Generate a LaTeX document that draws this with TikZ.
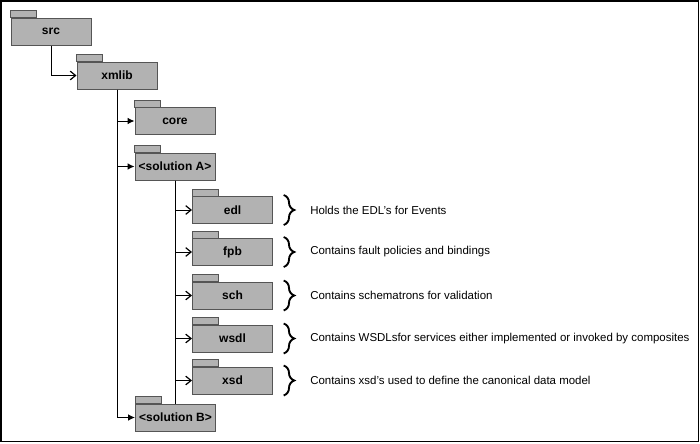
\documentclass[tikz,border=0pt]{standalone}
\usepackage{fontspec}
\setmainfont{Liberation Sans}
\usetikzlibrary{positioning,arrows.meta,decorations.pathreplacing}

\tikzset{
  pkg/.style={draw={rgb, 255:red, 85; green, 85; blue, 85 }, fill={rgb, 255:red, 178; green, 178; blue, 178 }, line width=0.75pt, minimum width=60pt, minimum height=20.25pt, inner sep=0pt, font=\bfseries\fontsize{9}{10}\selectfont},
  pkgtab/.style={draw={rgb, 255:red, 85; green, 85; blue, 85 }, fill={rgb, 255:red, 178; green, 178; blue, 178 }, line width=0.75pt},
  fillarrow/.style={line width=0.75pt, -{Latex[length=5.25pt,width=5pt]}},
  openarrow/.style={line width=0.75pt, -{Straight Barb[length=4pt,width=6.5pt,line width=0.9pt]}},
  curly/.style={line width=1.4pt, decorate, decoration={brace, amplitude=8pt}},
  note/.style={inner sep=0pt, font=\fontsize{8.6}{10}\selectfont}
}

\begin{document}
\begin{tikzpicture}[x=0.75pt,y=0.75pt,yscale=-1,xscale=1]
\useasboundingbox (0,0) rectangle (700,443);
% frame
\draw [line width=1.2pt] (0.8,0.8) rectangle (698.3,441.3);

% Packages
\node [pkg] (src) at (51,31.5) {src};
\node [pkg] (xmlib) at (117,75.5) {xmlib};
\node [pkg] (core) at (175,121) {core};
\node [pkg] (solA) at (175,166.5) {<solution A>};
\node [pkg] (edl) at (232.5,210) {edl};
\node [pkg] (fpb) at (232.5,252) {fpb};
\node [pkg] (sch) at (232.5,295.5) {sch};
\node [pkg] (wsdl) at (232.5,338.5) {wsdl};
\node [pkg] (xsd) at (232.5,380.5) {xsd};
\node [pkg] (solB) at (175.5,417.5) {<solution B>};

% Tabs
\foreach \p in {src,xmlib,core,solA,edl,fpb,sch,wsdl,xsd,solB}
  \draw [pkgtab] (\p.north west) rectangle ++(26,-7);

% Connectors
\draw [openarrow] (src.south) |- (xmlib.west);
\foreach \p in {core,solA,solB}
  \draw [fillarrow] (xmlib.south) |- (\p.west);
\draw [line width=0.75pt] (solA.south) -- (solA.south |- solB.north);
\foreach \p in {edl,fpb,sch,wsdl,xsd}
  \draw [openarrow] (solA.south) |- (\p.west);

% Braces
\foreach \p in {edl,fpb,sch,wsdl,xsd}
  \draw [curly] ([xshift=8pt,yshift=-0.75pt]\p.north east) -- ([xshift=8pt,yshift=0.75pt]\p.south east);

% Text Node
\node [note, right=27.75pt of edl] (edlnote) {Holds the EDL's for Events};
\node [note, right=27.75pt of fpb] (fpbnote) {Contains fault policies and bindings};
\node [note, right=27.75pt of sch] (schnote) {Contains schematrons for validation};
\node [note, right=27.75pt of wsdl] (wsdlnote) {Contains WSDLsfor services either implemented or invoked by composites};
\node [note, right=27.75pt of xsd] (xsdnote) {Contains xsd's used to define the canonical data model};

\end{tikzpicture}
\end{document}
